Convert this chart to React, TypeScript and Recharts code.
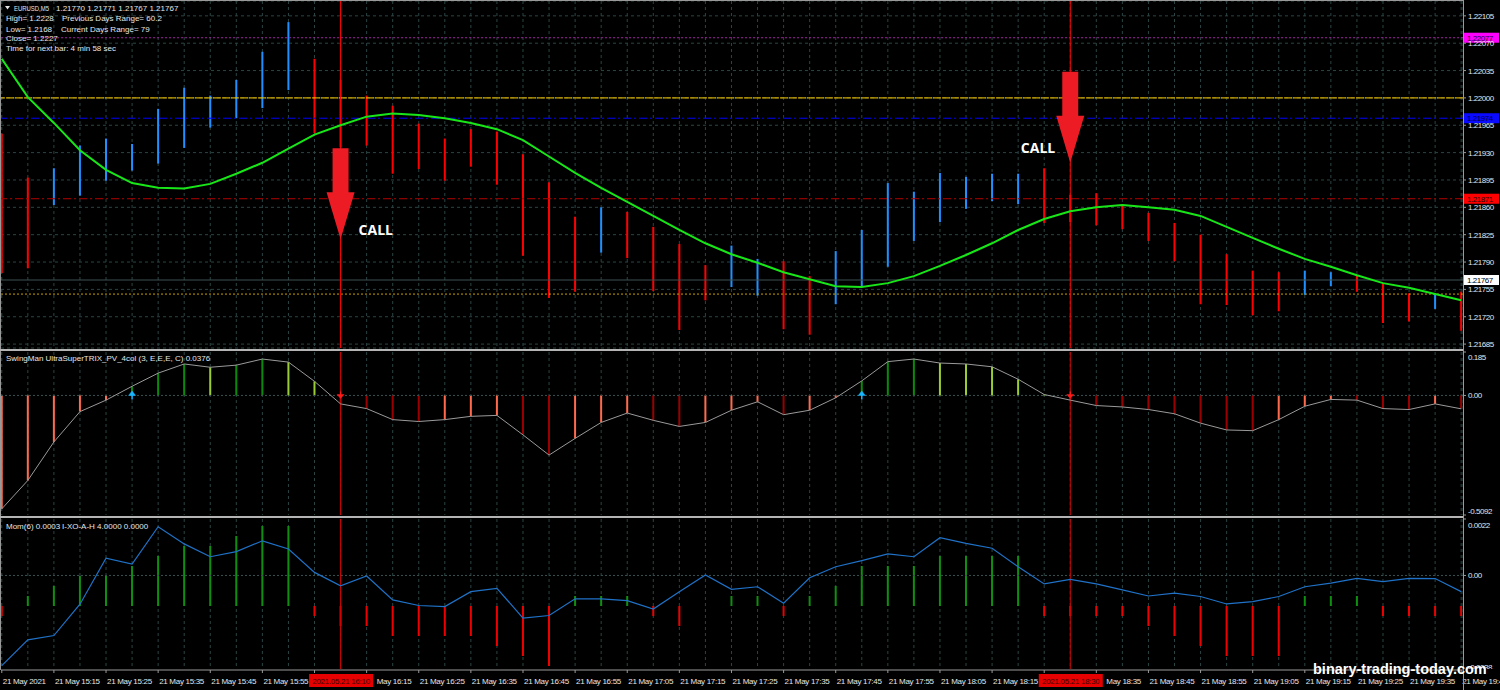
import React from 'react';
import {
  ComposedChart,
  Bar,
  Line,
  Scatter,
  XAxis,
  YAxis,
  CartesianGrid,
  ReferenceLine,
  ReferenceDot,
  Cell,
} from 'recharts';

// EURUSD M5, 21 May 2021
const barTimes = [
  '15:05', '15:10', '15:15', '15:20', '15:25', '15:30', '15:35', '15:40', '15:45', '15:50',
  '15:55', '16:00', '16:05', '16:10', '16:15', '16:20', '16:25', '16:30', '16:35', '16:40',
  '16:45', '16:50', '16:55', '17:00', '17:05', '17:10', '17:15', '17:20', '17:25', '17:30',
  '17:35', '17:40', '17:45', '17:50', '17:55', '18:00', '18:05', '18:10', '18:15', '18:20',
  '18:25', '18:30', '18:35', '18:40', '18:45', '18:50', '18:55', '19:00', '19:05', '19:10',
  '19:15', '19:20', '19:25', '19:30', '19:35', '19:40', '19:45',
];

const highs = [
  1.21954, 1.21898, 1.2191, 1.21939, 1.21948, 1.21941, 1.21986, 1.22013, 1.22003, 1.22023,
  1.22059, 1.22097, 1.2205, 1.22023, 1.22003, 1.2199, 1.21967, 1.21948, 1.2196, 1.21957,
  1.21928, 1.21892, 1.21848, 1.2186, 1.21854, 1.21835, 1.21813, 1.21786, 1.21811, 1.21794,
  1.21791, 1.21772, 1.21804, 1.21831, 1.21891, 1.2188, 1.21904, 1.21899, 1.21903, 1.21903,
  1.2191, 1.21876, 1.21878, 1.21862, 1.21853, 1.2184, 1.21825, 1.218, 1.21779, 1.21777,
  1.21779, 1.21777, 1.21773, 1.21763, 1.2175, 1.2175, 1.21752,
];
const lows = [
  1.21776, 1.21782, 1.21863, 1.21875, 1.21894, 1.21907, 1.21916, 1.21936, 1.21962, 1.21974,
  1.21987, 1.2201, 1.21955, 1.21937, 1.21939, 1.21903, 1.21909, 1.21894, 1.21912, 1.21889,
  1.21798, 1.21744, 1.21752, 1.21802, 1.21795, 1.21753, 1.21703, 1.21741, 1.21758, 1.21747,
  1.21704, 1.21697, 1.21736, 1.21759, 1.21784, 1.21817, 1.21841, 1.21858, 1.21868, 1.21864,
  1.2184, 1.21841, 1.21837, 1.21832, 1.21817, 1.21791, 1.21736, 1.21735, 1.21722, 1.21727,
  1.21748, 1.21759, 1.21752, 1.21712, 1.21714, 1.2173, 1.21702,
];
// u = bull bar, d = bear bar
const barDir = [
  'd', 'd', 'u', 'u', 'u', 'u', 'u', 'u', 'u', 'u',
  'u', 'u', 'd', 'd', 'd', 'd', 'd', 'd', 'd', 'd',
  'd', 'd', 'd', 'u', 'd', 'd', 'd', 'd', 'u', 'u',
  'd', 'd', 'u', 'u', 'u', 'u', 'u', 'u', 'u', 'u',
  'd', 'd', 'd', 'd', 'd', 'd', 'd', 'd', 'd', 'd',
  'u', 'u', 'd', 'd', 'd', 'u', 'd',
];
const maValues = [
  1.2205, 1.22001, 1.21968, 1.21933, 1.21908, 1.21891, 1.21885, 1.21884, 1.2189, 1.21903,
  1.21917, 1.21935, 1.21953, 1.21965, 1.21976, 1.2198, 1.21978, 1.21974, 1.21968, 1.2196,
  1.21946, 1.21925, 1.21904, 1.21885, 1.21867, 1.21849, 1.21831, 1.21814, 1.218, 1.21789,
  1.21777, 1.21768, 1.21759, 1.21758, 1.21763, 1.21772, 1.21785, 1.21799, 1.21814, 1.21831,
  1.21845, 1.21855, 1.2186, 1.21863, 1.2186, 1.21857, 1.21849, 1.21835, 1.21821, 1.21807,
  1.21794, 1.21784, 1.21773, 1.21763, 1.21757, 1.21749, 1.21741,
];
const trixValues = [
  -0.483, -0.362, -0.198, -0.069, -0.02, 0.039, 0.095, 0.134, 0.12, 0.129,
  0.155, 0.142, 0.06, -0.036, -0.056, -0.103, -0.111, -0.103, -0.089, -0.085,
  -0.168, -0.254, -0.183, -0.115, -0.075, -0.106, -0.132, -0.115, -0.063, -0.027,
  -0.082, -0.063, -0.01, 0.062, 0.144, 0.155, 0.138, 0.134, 0.122, 0.069,
  0.004, -0.02, -0.043, -0.049, -0.06, -0.078, -0.118, -0.147, -0.15, -0.103,
  -0.046, -0.017, -0.02, -0.056, -0.06, -0.036, -0.057,
];
const momValues = [
  -0.00351, -0.00251, -0.00234, -0.00112, 0.00067, 0.00044, 0.0019, 0.00123, 0.00073, 0.00093,
  0.00135, 0.00103, 0.00012, -0.0004, -0.00002, -0.00095, -0.00117, -0.00121, -0.00063, -0.0005,
  -0.00166, -0.00156, -0.00091, -0.00091, -0.00098, -0.00131, -0.00063, 0.00002, -0.00054, -0.00044,
  -0.00108, -0.00009, 0.00034, 0.00058, 0.00084, 0.00073, 0.00147, 0.00125, 0.00106, 0.00034,
  -0.00033, -0.00015, -0.00033, -0.00056, -0.0008, -0.00069, -0.00082, -0.00111, -0.00102, -0.00082,
  -0.00044, -0.0003, -0.00011, -0.00024, -0.00011, -0.00012, -0.00063,
];
const xoahValues = [
  -1, 1, 2, 3, 3, 4, 5, 6, 6, 7,
  8, 8, -1, -2, -2, -3, -3, -3, -3, -4,
  -5, -6, 1, 1, 1, -1, -2, 0, 1, 1,
  -1, 1, 2, 4, 4, 4, 5, 5, 5, 5,
  -1, -1, -1, -1, -2, -3, -4, -5, -5, -5,
  1, 1, 1, -1, -1, -1, -1,
];

const priceTicks = [
  1.22105, 1.2207, 1.22035, 1.22, 1.21965, 1.2193, 1.21895, 1.2186, 1.21825, 1.2179, 1.21755,
  1.2172, 1.21685,
];
const trixTicks = [0.185, 0, -0.5092];
const momTicks = [0.0022, 0, -0.0038];

const callBars = [13, 41];
const callArrowTips = [1.21819, 1.21917];

const prevHighLevel = 1.22077;
const roundLevel = 1.22;
const pivotLevel = 1.21974;
const dayOpenLevel = 1.21871;
const bidLevel = 1.21767;
const supportLevel = 1.21749;

// layout
const W = 1500;
const AXIS_W = 37;
const X_DOMAIN: [number, number] = [-0.03, 56.07];
const FONT = '"Liberation Sans", Arial, sans-serif';
const GRID = '#2c4444';
const FRAME = '#9a9a9a';
const TEXT = '#e6e6e6';
const UP = '#1e90ff';
const DOWN = '#ff0000';
const callLabelPos = [
  { dx: 18, dy: -4, anchor: 'start' },
  { dx: -15, dy: -10, anchor: 'end' },
];

const rows = barTimes.map((t, i) => ({
  i,
  t,
  low: lows[i],
  high: highs[i],
  dir: barDir[i],
  ma: maValues[i],
  trix: trixValues[i],
  mom: momValues[i],
  xoah: xoahValues[i],
}));
const barIdx = rows.map((r) => r.i);
const timeTicks = [...barIdx.filter((i) => i % 2 === 0), ...callBars];

const trixColor = (i: number) => {
  const v = trixValues[i];
  const rising = i === 0 || v >= trixValues[i - 1];
  if (v >= 0) return rising ? '#0a8a0a' : '#9acd32';
  return rising ? '#ff6a4d' : '#9a0000';
};
const trixCrosses = rows
  .filter((r) => r.i > 0 && Math.sign(r.trix) !== Math.sign(trixValues[r.i - 1]))
  .map((r) => ({ i: r.i, zero: 0, up: r.trix > 0 }));

const scaleTick = (fmt: (v: number) => string, shifts: Record<string, number> = {}) =>
  (props: any) => {
    const { x, y, payload } = props;
    const label = fmt(payload.value);
    const dy = shifts[label] ?? 0;
    return (
      <text x={x} y={y + dy + 3} fill={TEXT} fontSize={8} fontFamily={FONT} letterSpacing={-0.45} textAnchor="start">
        {label}
      </text>
    );
  };

const levelTag = (text: string, bg: string, fg: string) => (props: any) => {
  const vb = props.viewBox || {};
  const x = (vb.x ?? 0) + (vb.width ?? 0) + 1;
  const y = vb.y ?? 0;
  return (
    <g>
      <rect x={x} y={y - 5} width={35} height={10} fill={bg} />
      <text x={x + 3} y={y + 3} fill={fg} fontSize={8} fontFamily={FONT} letterSpacing={-0.45}>
        {text}
      </text>
    </g>
  );
};

const callArrow = (k: number) => (props: any) => {
  const { cx, cy } = props;
  const pos = callLabelPos[k];
  const d = `M${cx - 8},${cy - 91} H${cx + 8} V${cy - 47} H${cx + 14} L${cx},${cy} L${cx - 14},${cy - 47} H${cx - 8} Z`;
  return (
    <g>
      <path d={d} fill="#ed1c24" />
      <text
        x={cx + pos.dx}
        y={cy + pos.dy}
        textAnchor={pos.anchor as any}
        fill="#ffffff"
        fontSize={14}
        fontWeight={700}
        fontFamily='"Open Sans", sans-serif'
      >
        CALL
      </text>
    </g>
  );
};

const crossArrow = (props: any) => {
  const { cx, cy, payload } = props;
  if (payload.up) {
    return (
      <g stroke="#19b6ff" fill="#19b6ff" strokeWidth={1.5}>
        <line x1={cx} y1={cy - 2} x2={cx} y2={cy + 4} />
        <path d={`M${cx - 3.5},${cy} L${cx},${cy - 4.5} L${cx + 3.5},${cy} Z`} strokeWidth={0.5} />
      </g>
    );
  }
  return (
    <g stroke="#ff1a1a" fill="#ff1a1a" strokeWidth={1.5}>
      <line x1={cx} y1={cy - 4} x2={cx} y2={cy + 1} />
      <path d={`M${cx - 3.5},${cy - 1} L${cx},${cy + 3} L${cx + 3.5},${cy - 1} Z`} strokeWidth={0.5} />
    </g>
  );
};

const TimeTick = (props: any) => {
  const { x, y, payload } = props;
  const i = payload.value as number;
  const sig = callBars.indexOf(i);
  if (sig >= 0) {
    return (
      <g>
        <rect x={x - 31.5} y={y + 4} width={64} height={13} fill="#e60000" />
        <text x={x + 0.5} y={y + 14} textAnchor="middle" fill="#3a0000" fontSize={8} fontFamily={FONT} letterSpacing={-0.3}>
          {`2021.05.21 ${barTimes[i]}`}
        </text>
      </g>
    );
  }
  const mark = <line x1={x} y1={y} x2={x} y2={y + 3} stroke={FRAME} />;
  // labels partly hidden under the highlighted signal time
  if (callBars.includes(i + 1)) return <g>{mark}</g>;
  if (callBars.includes(i - 1)) {
    return (
      <g>
        {mark}
        <text x={x + 10} y={y + 14} fill={TEXT} fontSize={8} fontFamily={FONT} letterSpacing={-0.3}>
          {`May ${barTimes[i]}`}
        </text>
      </g>
    );
  }
  const label = i === 0 ? '21 May 2021' : `21 May ${barTimes[i]}`;
  return (
    <g>
      {mark}
      <text x={x + 1} y={y + 14} fill={TEXT} fontSize={8} fontFamily={FONT} letterSpacing={-0.3}>
        {label}
      </text>
    </g>
  );
};

function MainPanel() {
  return (
    <ComposedChart width={W} height={350} data={rows} margin={{ top: 1, right: 0, bottom: 2, left: 1 }}>
      <CartesianGrid stroke={GRID} strokeDasharray="3 3" />
      <XAxis dataKey="i" type="number" domain={X_DOMAIN} ticks={barIdx} interval={0} hide allowDataOverflow />
      <YAxis
        orientation="right"
        width={AXIS_W}
        domain={[1.2168, 1.22124]}
        allowDataOverflow
        ticks={priceTicks}
        interval={0}
        axisLine={false}
        tickSize={3}
        tickLine={{ stroke: FRAME }}
        tick={scaleTick((v) => v.toFixed(5))}
      />
      <ReferenceLine y={supportLevel} stroke="#c8a000" strokeDasharray="2 2" />
      <ReferenceLine y={bidLevel} stroke="#3e5050" label={levelTag('1.21767', '#ffffff', '#000000')} />
      <ReferenceLine y={dayOpenLevel} stroke="#b40000" strokeDasharray="8 3 2 3" label={levelTag('1.21871', '#ff0000', '#2a0000')} />
      <ReferenceLine y={pivotLevel} stroke="#0000ff" strokeDasharray="8 3 2 3" label={levelTag('1.21974', '#0a0aff', '#00003a')} />
      <ReferenceLine y={roundLevel} stroke="#ffd000" strokeDasharray="8 1" />
      <ReferenceLine y={prevHighLevel} stroke="#a020a0" strokeDasharray="2 2" label={levelTag('1.22077', '#ff00ff', '#2a002a')} />
      {callBars.map((b) => (
        <ReferenceLine key={`v${b}`} x={b} stroke="#ff0000" />
      ))}
      <Bar dataKey={(d: any) => [d.low, d.high]} barSize={2} isAnimationActive={false}>
        {rows.map((r) => (
          <Cell key={`c${r.i}`} fill={r.dir === 'u' ? UP : DOWN} />
        ))}
      </Bar>
      <Line dataKey="ma" stroke="#19e619" strokeWidth={2} dot={false} isAnimationActive={false} />
      {callBars.map((b, k) => (
        <ReferenceDot key={`a${b}`} x={b} y={callArrowTips[k]} r={0} ifOverflow="visible" shape={callArrow(k)} />
      ))}
    </ComposedChart>
  );
}

function TrixPanel() {
  return (
    <ComposedChart width={W} height={166} data={rows} margin={{ top: 2, right: 0, bottom: 1, left: 1 }}>
      <CartesianGrid stroke={GRID} strokeDasharray="3 3" horizontal={false} />
      <XAxis dataKey="i" type="number" domain={X_DOMAIN} ticks={barIdx} interval={0} hide allowDataOverflow />
      <YAxis
        orientation="right"
        width={AXIS_W}
        domain={[-0.5092, 0.185]}
        allowDataOverflow
        ticks={trixTicks}
        interval={0}
        axisLine={false}
        tickSize={3}
        tickLine={{ stroke: FRAME }}
        tick={scaleTick((v) => (v === 0 ? '0.00' : String(v)), { '0.185': 5, '-0.5092': -4 })}
      />
      <ReferenceLine y={0} stroke="#3a5050" strokeDasharray="2 2" />
      {callBars.map((b) => (
        <ReferenceLine key={`v${b}`} x={b} stroke="#d00000" />
      ))}
      <Bar dataKey="trix" barSize={2} isAnimationActive={false}>
        {rows.map((r) => (
          <Cell key={`t${r.i}`} fill={trixColor(r.i)} />
        ))}
      </Bar>
      <Line dataKey="trix" stroke="#9a9a9a" strokeWidth={1} dot={false} isAnimationActive={false} />
      <Scatter data={trixCrosses} dataKey="zero" shape={crossArrow} isAnimationActive={false} />
    </ComposedChart>
  );
}

function MomPanel() {
  return (
    <ComposedChart width={W} height={156} data={rows} margin={{ top: 2, right: 0, bottom: 0, left: 1 }}>
      <CartesianGrid stroke={GRID} strokeDasharray="3 3" horizontal={false} />
      <XAxis dataKey="i" type="number" domain={X_DOMAIN} ticks={barIdx} interval={0} hide allowDataOverflow />
      <YAxis
        yAxisId="m"
        orientation="right"
        width={AXIS_W}
        domain={[-0.0038, 0.0022]}
        allowDataOverflow
        ticks={momTicks}
        interval={0}
        axisLine={false}
        tickSize={3}
        tickLine={{ stroke: FRAME }}
        tick={scaleTick((v) => (v === 0 ? '0.00' : String(v)), { '0.0022': 6, '-0.0038': -6 })}
      />
      <YAxis yAxisId="h" hide domain={[-6.7, 8.7]} allowDataOverflow />
      <ReferenceLine yAxisId="m" y={0} stroke="#3a5050" strokeDasharray="2 2" />
      {callBars.map((b) => (
        <ReferenceLine key={`v${b}`} yAxisId="m" x={b} stroke="#d00000" />
      ))}
      <Bar yAxisId="h" dataKey="xoah" barSize={2} isAnimationActive={false}>
        {rows.map((r) => (
          <Cell key={`h${r.i}`} fill={r.xoah >= 0 ? '#0f8f0f' : '#ee0000'} />
        ))}
      </Bar>
      <Line yAxisId="m" dataKey="mom" stroke="#1f72c8" strokeWidth={1.2} dot={false} isAnimationActive={false} />
    </ComposedChart>
  );
}

function TimeAxis() {
  return (
    <ComposedChart width={W} height={21} data={rows} margin={{ top: 0, right: AXIS_W, bottom: 0, left: 1 }}>
      <XAxis
        dataKey="i"
        type="number"
        domain={X_DOMAIN}
        allowDataOverflow
        ticks={timeTicks}
        interval={0}
        height={20}
        tickSize={0}
        tickMargin={0}
        tickLine={false}
        axisLine={{ stroke: FRAME }}
        tick={TimeTick}
      />
      <YAxis hide domain={[0, 1]} />
    </ComposedChart>
  );
}

const txt = { fill: TEXT, fontSize: 8, fontFamily: FONT, style: { whiteSpace: 'pre' as const } };

export default function App() {
  return (
    <div style={{ position: 'absolute', left: 0, top: 0, width: W, height: 690, background: '#000', overflow: 'hidden' }}>
      <div style={{ position: 'absolute', left: 0, top: 0 }}>
        <MainPanel />
      </div>
      <div style={{ position: 'absolute', left: 0, top: 350 }}>
        <TrixPanel />
      </div>
      <div style={{ position: 'absolute', left: 0, top: 517 }}>
        <MomPanel />
      </div>
      <div style={{ position: 'absolute', left: 0, top: 669, background: '#000' }}>
        <TimeAxis />
      </div>
      {/* window frame */}
      <div style={{ position: 'absolute', left: 0, top: 0, width: 1463, height: 1, background: FRAME }} />
      <div style={{ position: 'absolute', left: 0, top: 0, width: 1, height: 670, background: FRAME }} />
      <div style={{ position: 'absolute', left: 0, top: 349, width: 1463, height: 2, background: '#b4b4b4' }} />
      <div style={{ position: 'absolute', left: 0, top: 516, width: 1463, height: 2, background: '#b4b4b4' }} />
      <div style={{ position: 'absolute', left: 1463, top: 0, width: 1, height: 690, background: FRAME }} />
      <svg width={W} height={690} style={{ position: 'absolute', left: 0, top: 0, pointerEvents: 'none' }}>
        <path d="M5,6 L10,6 L7.5,9.5 Z" fill={TEXT} />
        <text y={11} {...txt}>
          <tspan x={14} textLength={35} lengthAdjust="spacingAndGlyphs">EURUSD,M5</tspan>
          <tspan x={56}>1.21770 1.21771 1.21767 1.21767</tspan>
        </text>
        <text x={6} y={21} {...txt}>High= 1.2228</text>
        <text x={62} y={21} {...txt}>Previous Days Range= 60.2</text>
        <text x={6} y={31.5} {...txt}>Low= 1.2168</text>
        <text x={61} y={31.5} {...txt}>Current Days Range= 79</text>
        <text x={6} y={41} {...txt}>Close= 1.2227</text>
        <text x={6} y={51} {...txt}>Time for next bar: 4 min 58 sec</text>
        <text x={6} y={361} {...txt}>SwingMan UltraSuperTRIX_PV_4col (3, E,E,E, C) 0.0376</text>
        <text x={6} y={529} {...txt}>Mom(6) 0.0003</text>
        <text x={62} y={529} {...txt}>I-XO-A-H 4.0000 0.0000</text>
        <text x={1313} y={674} fill="#ffffff" fontSize={14.5} fontWeight={700} fontFamily={FONT}>
          binary-trading-today.com
        </text>
      </svg>
    </div>
  );
}
